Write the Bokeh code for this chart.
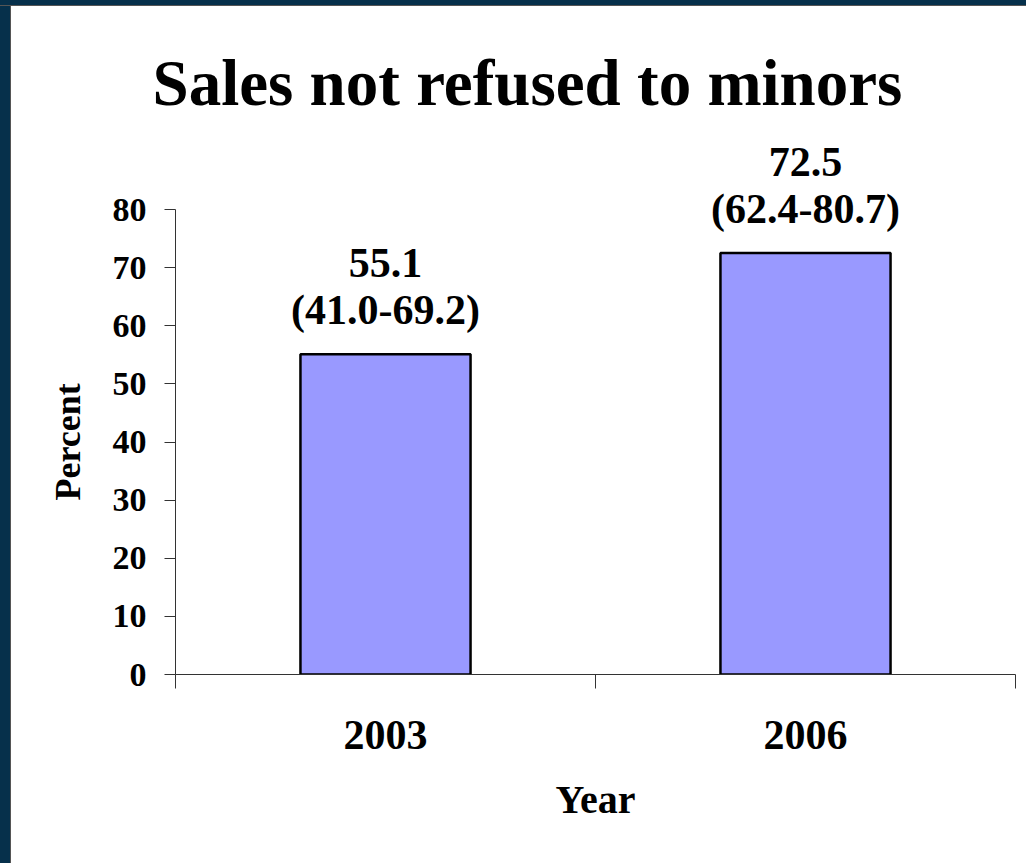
from bokeh.plotting import figure
from bokeh.models import Range1d, FixedTicker, Label, Spacer, Title
from bokeh.layouts import row, column
from bokeh.embed import file_html
from bokeh.resources import INLINE

years = ["2003", "2006"]
percent = [55.1, 72.5]
ci_labels = ["(41.0-69.2)", "(62.4-80.7)"]
value_labels = ["55.1", "72.5"]
y_ticks = [0, 10, 20, 30, 40, 50, 60, 70, 80]
title_text = "Sales not refused to minors"
y_title = "Percent"
x_title = "Year"

FONT = "Liberation Serif"
DARK = "#06304b"
W, H = 1015, 857
PX_PER_UNIT = 465 / 80.0
MB_L, MB_R, MB_T, MB_B = 164, 11, 122, 189
frame_h = H - MB_T - MB_B
y_top = frame_h / PX_PER_UNIT

xs = [i + 0.5 for i in range(len(years))]

p = figure(width=W, height=H, output_backend="svg", toolbar_location=None,
           x_range=Range1d(0, len(years)), y_range=Range1d(0, y_top),
           min_border_left=MB_L, min_border_right=MB_R, min_border_top=MB_T,
           min_border_bottom=MB_B)
p.background_fill_color = "white"
p.border_fill_color = "white"
p.outline_line_color = None
p.grid.visible = False

p.vbar(x=xs, top=percent, width=0.405, fill_color="#9999ff",
       line_color="black", line_width=2.5)

# value labels above bars
for x, v, lab, ci in zip(xs, percent, value_labels, ci_labels):
    p.add_layout(Label(x=x, y=v, text=ci, y_offset=44, text_align="center",
                       text_baseline="middle", text_font=FONT,
                       text_font_style="bold", text_font_size="42px",
                       text_color="black"))
    p.add_layout(Label(x=x, y=v, text=lab, y_offset=91, text_align="center",
                       text_baseline="middle", text_font=FONT,
                       text_font_style="bold", text_font_size="42px",
                       text_color="black"))

# chart title
p.add_layout(Title(text=title_text, align="left", offset=-23, standoff=20,
                   text_font=FONT, text_font_style="bold",
                   text_font_size="65px", text_color="black"), "above")

# y axis title (placed as a left-side title)
p.add_layout(Title(text=y_title, align="left", offset=174, standoff=44,
                   text_font=FONT, text_font_style="bold",
                   text_font_size="36px", text_color="black"), "left")

# y axis
ya = p.yaxis[0]
ya.ticker = FixedTicker(ticks=y_ticks, minor_ticks=[])
ya.bounds = (0, 80)
ya.axis_line_color = "#333333"
ya.major_tick_line_color = "#333333"
ya.major_tick_out = 11
ya.major_tick_in = 0
ya.major_label_standoff = 18
ya.major_label_text_font = FONT
ya.major_label_text_font_style = "bold"
ya.major_label_text_font_size = "34px"
ya.major_label_text_color = "black"

# x axis
xa = p.xaxis[0]
xa.ticker = FixedTicker(ticks=xs, minor_ticks=list(range(len(years) + 1)))
xa.major_label_overrides = {x: y for x, y in zip(xs, years)}
xa.axis_line_color = "#333333"
xa.major_tick_out = 0
xa.major_tick_in = 0
xa.minor_tick_line_color = "#333333"
xa.minor_tick_out = 14
xa.minor_tick_in = 0
xa.major_label_standoff = 32
xa.major_label_text_font = FONT
xa.major_label_text_font_style = "bold"
xa.major_label_text_font_size = "42px"
xa.major_label_text_color = "black"
xa.axis_label = x_title
xa.axis_label_text_font = FONT
xa.axis_label_text_font_style = "bold"
xa.axis_label_text_font_size = "40px"
xa.axis_label_text_color = "black"
xa.axis_label_standoff = 25

# dark slide border (top and left)
top_bar = column(Spacer(width=1026, height=5, styles={"background-color": DARK}),
                 Spacer(width=1026, height=1, styles={"background-color": "#555555"}),
                 spacing=0)
left_bar = row(Spacer(width=10, height=H, styles={"background-color": DARK}),
               Spacer(width=1, height=H, styles={"background-color": "#555555"}),
               spacing=0)
layout = column(top_bar, row(left_bar, p, spacing=0), spacing=0)

open("out.html", "w").write(file_html(layout, INLINE))
